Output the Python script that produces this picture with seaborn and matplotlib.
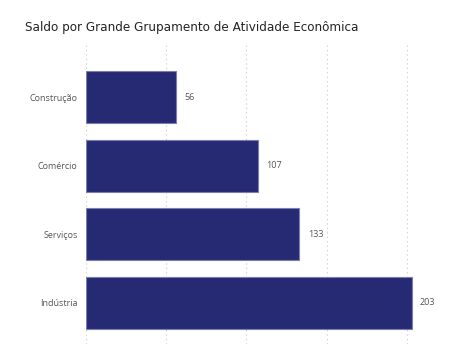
import matplotlib
matplotlib.use("Agg")
import matplotlib.pyplot as plt
import seaborn as sns
import pandas as pd

categories = ["Construção", "Comércio", "Serviços", "Indústria"]
values = [56, 107, 133, 203]
title = "Saldo por Grande Grupamento de Atividade Econômica"

df = pd.DataFrame({"cat": categories, "val": values})

sns.set_style("white")
plt.rcParams["font.family"] = ["Open Sans", "DejaVu Sans"]

fig = plt.figure(figsize=(4.63, 3.44), dpi=100)
ax = fig.add_axes([86 / 463, 0, (447 - 86) / 463, (344 - 43) / 344])

sns.barplot(data=df, y="cat", x="val", orient="h", color="#262a73",
            width=0.76, ax=ax, edgecolor="#7a7eb5", linewidth=0.8, saturation=1)

ax.set_xlim(0, 225)
ax.set_ylim(3.6, -0.79)
ax.set_xticks([0, 50, 100, 150, 200])
ax.xaxis.grid(True, linestyle=(0, (1, 3)), color="#c8c8c8", linewidth=0.8)
ax.set_axisbelow(True)
ax.set_xticklabels([])
ax.tick_params(axis="x", length=0)
ax.tick_params(axis="y", length=0, pad=6, labelsize=6.5, labelcolor="#555555")
ax.set_xlabel("")
ax.set_ylabel("")
for s in ax.spines.values():
    s.set_visible(False)

for i, v in enumerate(values):
    ax.annotate(str(v), xy=(v, i), xytext=(6, 0), textcoords="offset points",
                va="center", ha="left", fontsize=6.5, color="#555555")

fig.text(25 / 463, 1 - 27 / 344, title, fontsize=9.6, color="#252423",
         va="center", ha="left", family=["DejaVu Sans"], fontstretch="condensed")

fig.savefig("out.png", dpi=100)
